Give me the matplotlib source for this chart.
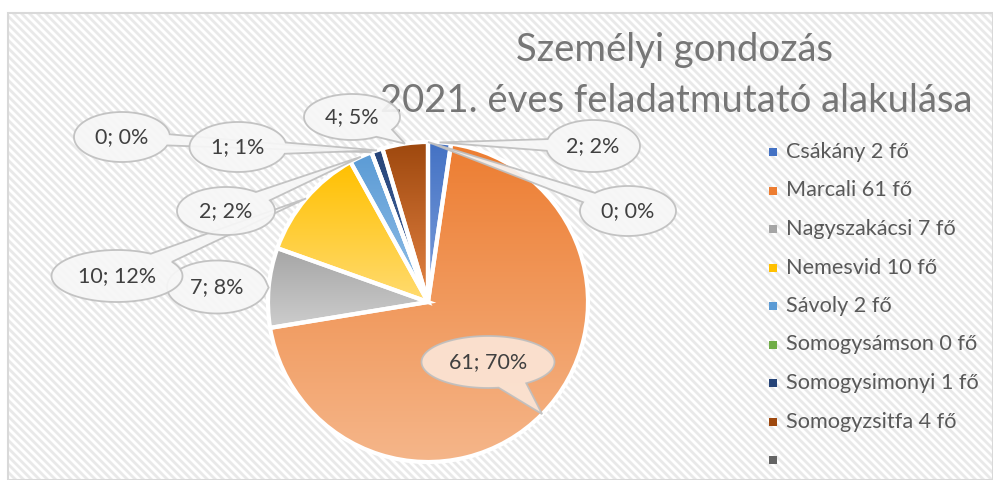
import numpy as np
import matplotlib
matplotlib.use('Agg')
import matplotlib.pyplot as plt
from matplotlib.patches import Rectangle, Polygon
from matplotlib.collections import LineCollection

plt.rcParams['font.family'] = ['Lato', 'DejaVu Sans']

W, H = 993, 480

# data
settlements = ['Csákány', 'Marcali', 'Nagyszakácsi', 'Nemesvid', 'Sávoly',
               'Somogysámson', 'Somogysimonyi', 'Somogyzsitfa', '']
persons = [2, 61, 7, 10, 2, 0, 1, 4, 0]
title_lines = ['Személyi gondozás', '2021. éves feladatmutató alakulása']

# office-like colours, gradient from top to bottom of each slice
col_top = ['#4472C4', '#ED7D31', '#A5A5A5', '#FFC000', '#5B9BD5',
           '#70AD47', '#264478', '#9E480E', '#636363']
col_bot = ['#7EA0DC', '#F5B68A', '#CDCDCD', '#FFDB70', '#94C0E8',
           '#A5D08A', '#4A6DAA', '#E58444', '#9A9A9A']

# callout ellipses (centre x, centre y, width, height) in pixels, y downwards
bubbles = [(593, 146, 94, 52), (488, 362, 133, 52), (217, 287, 100, 53),
           (117, 276, 131, 52), (226, 211, 98, 48), (122, 137, 96, 50),
           (238, 147, 97, 50), (352, 117, 96, 46), (628, 211, 96, 50)]

cx, cy, rad = 428, 302, 160


def fy(y):
    return H - y


def percents(vals):
    # largest remainder rounding, like Excel's labels
    vals = np.array(vals, dtype=float)
    raw = vals / vals.sum() * 100
    out = np.floor(raw).astype(int)
    rest = 100 - out.sum()
    order = np.argsort(-(raw - out))
    out[order[:rest]] += 1
    return out


fig = plt.figure(figsize=(W / 100, H / 100), dpi=100)
ax = fig.add_axes([0, 0, 1, 1])

# striped chart background + border
bg = Rectangle((8, 0), W - 8, H - 13, facecolor='white', lw=0, zorder=0)
ax.add_patch(bg)
stripes = [[(c - H, H), (c, 0)] for c in np.arange(0, W + H + 8, 8)]
lc = LineCollection(stripes, colors='#E9E9E9', linewidths=2.0, zorder=0.2)
ax.add_collection(lc)
lc.set_clip_path(bg)
ax.add_patch(Rectangle((8, 0), W - 8, H - 13, fill=False,
                       edgecolor='#D9D9D9', lw=1.5, zorder=0.5))

wedges, _ = ax.pie(persons, center=(cx, fy(cy)), radius=rad, startangle=90,
                   counterclock=False,
                   wedgeprops=dict(edgecolor='white', linewidth=3))

grad = np.linspace(0, 1, 256)
for w, c1, c2 in zip(wedges, col_top, col_bot):
    w.set_facecolor('none')
    w.set_zorder(2)
    if abs(w.theta2 - w.theta1) < 1e-6:
        continue
    bb = w.get_path().get_extents()
    a = np.array(matplotlib.colors.to_rgb(c1))
    b = np.array(matplotlib.colors.to_rgb(c2))
    img = (a[None, :] * (1 - grad[:, None]) + b[None, :] * grad[:, None])[:, None, :]
    im = ax.imshow(img, extent=(bb.x0, bb.x1, bb.y0, bb.y1), origin='upper',
                   aspect='auto', interpolation='bilinear', zorder=1)
    im.set_clip_path(w)

# callouts
pcts = percents(persons)
for i, (w, n, p) in enumerate(zip(wedges, persons, pcts)):
    bx, by, bw, bh = bubbles[i]
    mid = np.deg2rad((w.theta1 + w.theta2) / 2)
    tx = cx + rad * np.cos(mid)
    ty = cy - rad * np.sin(mid)
    ea, eb = bw / 2, bh / 2
    ang = np.arctan2((ty - by) / eb, (tx - bx) / ea)
    d = np.deg2rad(13)
    ts = np.linspace(ang + d, ang + 2 * np.pi - d, 120)
    pts = [(bx + ea * np.cos(t), fy(by + eb * np.sin(t))) for t in ts]
    pts.append((tx, fy(ty)))
    fc = '#FBE5D6' if i == 1 else '#F7F7F7'
    ax.add_patch(Polygon(pts, closed=True, facecolor=fc, edgecolor='#BFBFBF',
                         lw=1.3, alpha=0.92, zorder=3 + i * 0.1))
    ax.text(bx, fy(by), f'{n}; {p}%', ha='center', va='center',
            fontsize=15.5, color='#404040', zorder=4)

# legend
for i, (name, n) in enumerate(zip(settlements, persons)):
    y = 152 + i * 38.5
    ax.add_patch(Rectangle((769, fy(y) - 4), 8, 8, facecolor=col_top[i],
                           edgecolor='none', zorder=3))
    if name:
        ax.text(786, fy(y), f'{name} {n} fő', ha='left', va='center',
                fontsize=15.6, color='#595959', zorder=3)

ax.text(674, fy(61), title_lines[0], ha='center', va='baseline', fontsize=27.5,
        color='#767676', zorder=3)
ax.text(676, fy(112), title_lines[1], ha='center', va='baseline', fontsize=27.5,
        color='#767676', zorder=3)

ax.set_xlim(0, W)
ax.set_ylim(0, H)
ax.set_aspect('auto')
ax.axis('off')

fig.savefig('out.png', dpi=100)
